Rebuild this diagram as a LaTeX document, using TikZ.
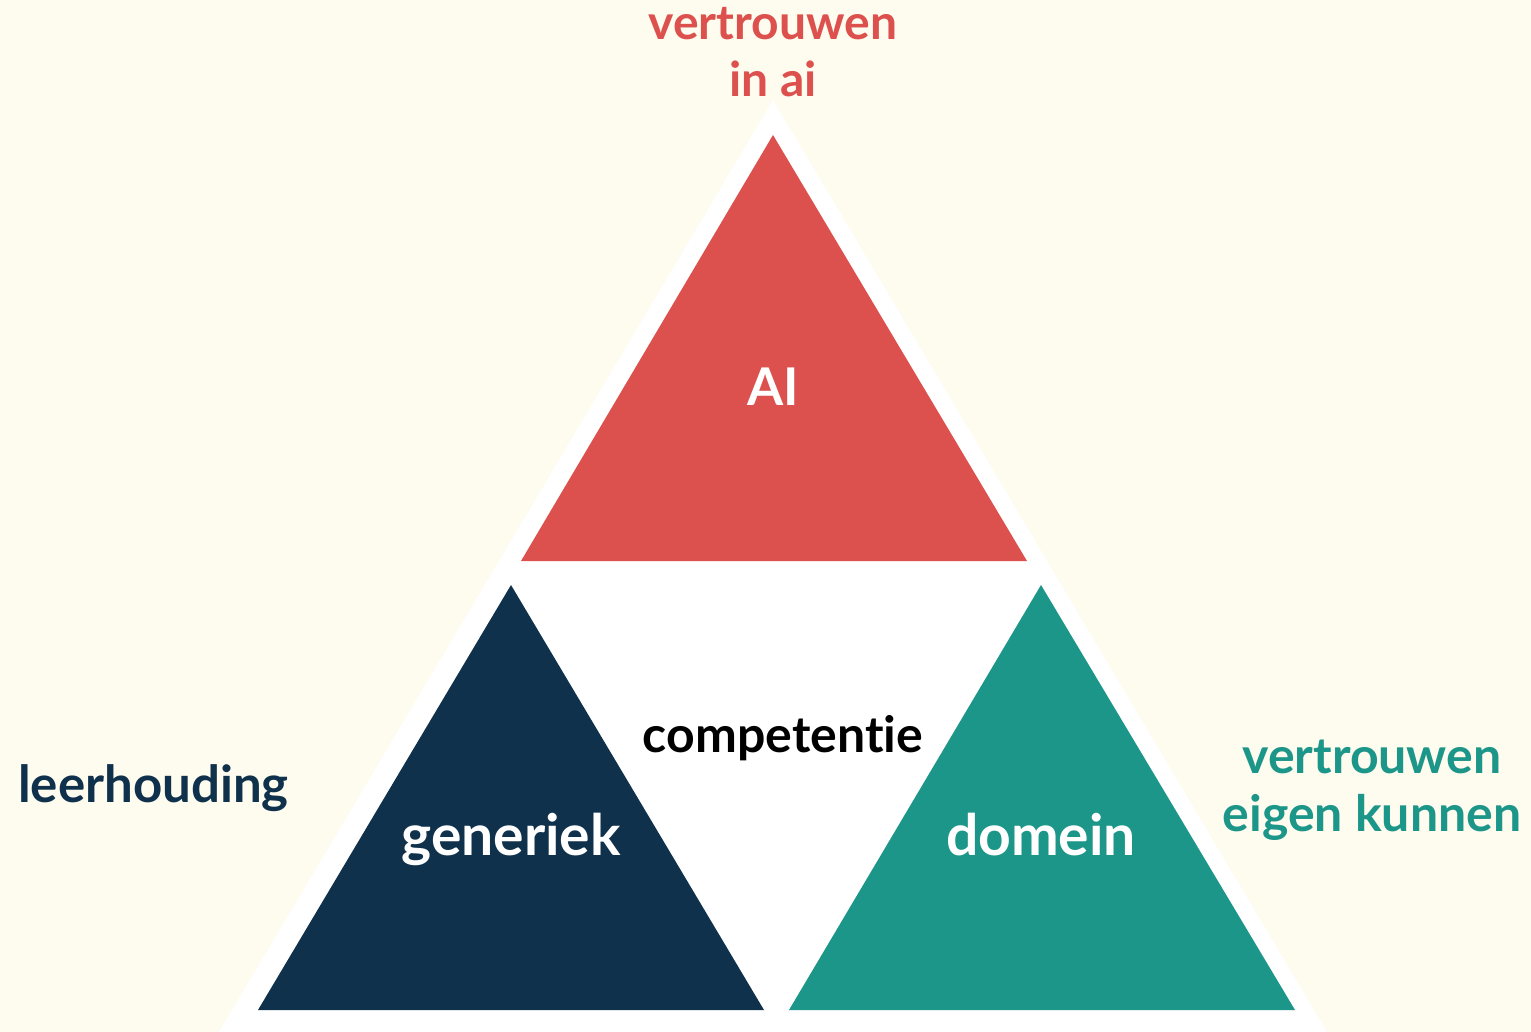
\documentclass[tikz,border=0pt]{standalone}
\usepackage{fontspec}
\setmainfont{Lato}[UprightFont=* Bold, Ligatures=NoCommon]
\definecolor{bg}{HTML}{FEFBEF}
\definecolor{cred}{HTML}{DC514D}
\definecolor{cnavy}{HTML}{0F314B}
\definecolor{cteal}{HTML}{1C9688}
\tikzset{
  lbl/.style={anchor=base, inner sep=0pt, font=\fontsize{#1}{#1}\selectfont},
  tri/.style={draw=none}
}
\begin{document}
\begin{tikzpicture}[x=1pt,y=-1pt]
\fill[bg] (0,0) rectangle (1531,1032);
\useasboundingbox (0,0) rectangle (1531,1032);
% big white triangle
\fill[white] (773,100) -- (1327,1032) -- (219,1032) -- cycle;
% coloured triangles
\fill[cred] (773,135) -- (1027,561) -- (521,561) -- cycle;
\fill[cnavy] (511,585) -- (764,1010) -- (258,1010) -- cycle;
\fill[cteal] (1041,585) -- (1295,1010) -- (789,1010) -- cycle;
% labels
\node[lbl=48, text=cred] (t1) at (773,40) {vertrouwen};
\node[lbl=48, text=cred] (t2) at (773,97) {in ai};
\node[lbl=52, text=white] (ai) at (773,405) {AI};
\node[lbl=50, text=black] (comp) at (783,752) {competentie};
\node[lbl=51, text=cnavy, anchor=base west] (leer) at (18,802) {leerhouding};
\node[lbl=57, text=white] (gen) at (511,855) {generiek};
\node[lbl=57, text=white] (dom) at (1041,855) {domein};
\node[lbl=50, text=cteal] (v1) at (1372,773) {vertrouwen};
\node[lbl=50, text=cteal] (v2) at (1372,831) {eigen kunnen};
\end{tikzpicture}
\end{document}
